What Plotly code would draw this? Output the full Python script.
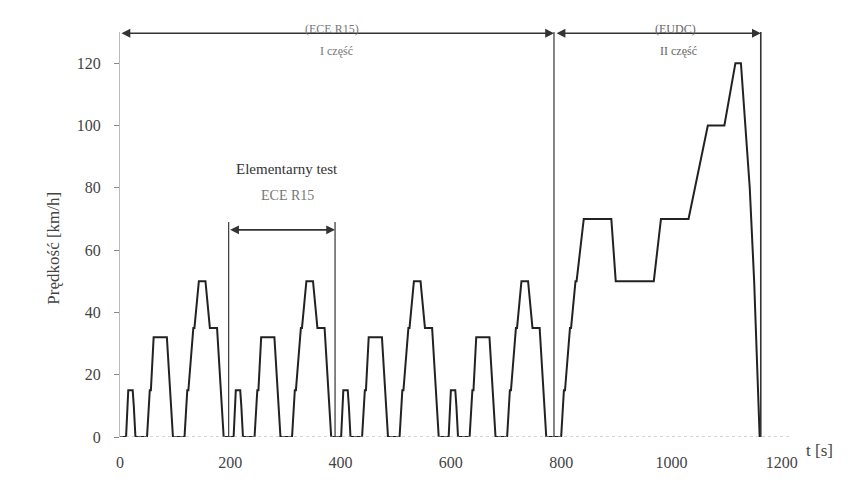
import plotly.graph_objects as go

# NEDC speed profile: time [s] and speed [km/h]
t_ece1 = [0, 11, 15, 23, 25, 28, 49, 54, 56, 61, 85, 93, 96, 117, 122, 124, 133, 135, 143, 155, 163, 176, 185, 188]
v_ece1 = [0, 0, 15, 15, 10, 0, 0, 15, 15, 32, 32, 10, 0, 0, 15, 15, 35, 35, 50, 50, 35, 35, 10, 0]
t_ece2 = [195, 206, 210, 218, 220, 223, 244, 249, 251, 256, 280, 288, 291, 312, 317, 319, 328, 330, 338, 350, 358, 371, 380, 383]
v_ece2 = [0, 0, 15, 15, 10, 0, 0, 15, 15, 32, 32, 10, 0, 0, 15, 15, 35, 35, 50, 50, 35, 35, 10, 0]
t_ece3 = [390, 401, 405, 413, 415, 418, 439, 444, 446, 451, 475, 483, 486, 507, 512, 514, 523, 525, 533, 545, 553, 566, 575, 578]
v_ece3 = [0, 0, 15, 15, 10, 0, 0, 15, 15, 32, 32, 10, 0, 0, 15, 15, 35, 35, 50, 50, 35, 35, 10, 0]
t_ece4 = [585, 596, 600, 608, 610, 613, 634, 639, 641, 646, 670, 678, 681, 702, 707, 709, 718, 720, 728, 740, 748, 761, 770, 773]
v_ece4 = [0, 0, 15, 15, 10, 0, 0, 15, 15, 32, 32, 10, 0, 0, 15, 15, 35, 35, 50, 50, 35, 35, 10, 0]
t_eudc = [780, 800, 805, 807, 816, 818, 826, 828, 841, 891, 899, 968, 981, 1031, 1066, 1096, 1116, 1126, 1142, 1150, 1160]
v_eudc = [0, 0, 15, 15, 35, 35, 50, 50, 70, 70, 50, 50, 70, 70, 100, 100, 120, 120, 80, 50, 0]

x_ticks = [0, 200, 400, 600, 800, 1000, 1200]
y_ticks = [0, 20, 40, 60, 80, 100, 120]

# boundaries (time)
elem_start, elem_end, elem_level = 197, 390, 69
ece_end, eudc_end = 787, 1162
top_level = 129.6
elem_arrow_level = 66.5

t_all = t_ece1 + t_ece2 + t_ece3 + t_ece4 + t_eudc
v_all = v_ece1 + v_ece2 + v_ece3 + v_ece4 + v_eudc

FONT = "Liberation Serif"

fig = go.Figure()
fig.add_trace(go.Scatter(x=t_all, y=v_all, mode="lines",
                         line=dict(color="#222222", width=2), showlegend=False,
                         hoverinfo="skip"))

shapes = [
    dict(type="line", xref="x", yref="y", x0=0, x1=1215, y0=0, y1=0,
         line=dict(color="#aaaaaa", width=1.2, dash="dot")),
    dict(type="line", xref="x", yref="y", x0=elem_start, x1=elem_start, y0=0, y1=elem_level,
         line=dict(color="#444444", width=1.3)),
    dict(type="line", xref="x", yref="y", x0=elem_end, x1=elem_end, y0=-1, y1=elem_level,
         line=dict(color="#444444", width=1.3)),
    dict(type="line", xref="x", yref="y", x0=ece_end, x1=ece_end, y0=-2.5, y1=top_level + 0.5,
         line=dict(color="#444444", width=1.3)),
    dict(type="line", xref="x", yref="y", x0=eudc_end, x1=eudc_end, y0=-1, y1=top_level + 1,
         line=dict(color="#333333", width=1.6)),
]

annotations = []


def double_arrow(x0, x1, y):
    annotations.append(dict(x=x1, y=y, ax=x0, ay=y, xref="x", yref="y", axref="x", ayref="y",
                            text="", showarrow=True, arrowhead=2, arrowside="end+start",
                            arrowsize=1.1, arrowwidth=1.6, arrowcolor="#333333",
                            standoff=0, startstandoff=0))


double_arrow(0, ece_end, top_level)
double_arrow(ece_end + 2, eudc_end, top_level)
double_arrow(elem_start, elem_end, elem_arrow_level)

annotations += [
    dict(x=(elem_start + elem_end) / 2 + 10, y=86, xref="x", yref="y", text="Elementarny test",
         showarrow=False, font=dict(family=FONT, size=15, color="#333333")),
    dict(x=(elem_start + elem_end) / 2 + 10, y=77.5, xref="x", yref="y", text="ECE R15",
         showarrow=False, font=dict(family=FONT, size=14, color="#777777")),
    dict(x=385, y=1.03, xref="x", yref="paper", text="(ECE R15)", showarrow=False,
         font=dict(family=FONT, size=12, color="#777777")),
    dict(x=392, y=0.975, xref="x", yref="paper", text="I część", showarrow=False,
         font=dict(family=FONT, size=12, color="#777777")),
    dict(x=1007, y=1.03, xref="x", yref="paper", text="(EUDC)", showarrow=False,
         font=dict(family=FONT, size=12, color="#666666")),
    dict(x=1012, y=0.975, xref="x", yref="paper", text="II część", showarrow=False,
         font=dict(family=FONT, size=12, color="#666666")),
    dict(x=1.067, y=-0.062, xref="paper", yref="paper", text="t [s]", showarrow=False,
         font=dict(family=FONT, size=17, color="#444444")),
    dict(x=-0.116, y=0.467, xref="paper", yref="paper", text="Prędkość [km/h]", textangle=-90,
         showarrow=False, font=dict(family=FONT, size=17, color="#444444")),
]

fig.update_layout(
    width=858, height=482,
    margin=dict(l=120, r=68, t=32, b=45),
    paper_bgcolor="white", plot_bgcolor="white",
    shapes=shapes, annotations=annotations,
    font=dict(family=FONT, size=16, color="#444444"),
    xaxis=dict(range=[0, 1215], tickvals=x_ticks, ticktext=[str(v) for v in x_ticks],
               showgrid=False, zeroline=False, showline=False, ticks="",
               ticklabelstandoff=14,
               tickfont=dict(family=FONT, size=16, color="#444444")),
    yaxis=dict(range=[0, 130], tickvals=y_ticks, ticktext=[str(v) for v in y_ticks],
               showgrid=False, zeroline=False, showline=True, linecolor="#bbbbbb", linewidth=1.2,
               ticks="outside", ticklen=5, tickcolor="#888888", ticklabelstandoff=10,
               tickfont=dict(family=FONT, size=16, color="#444444")),
)

fig.write_html("out.html")
